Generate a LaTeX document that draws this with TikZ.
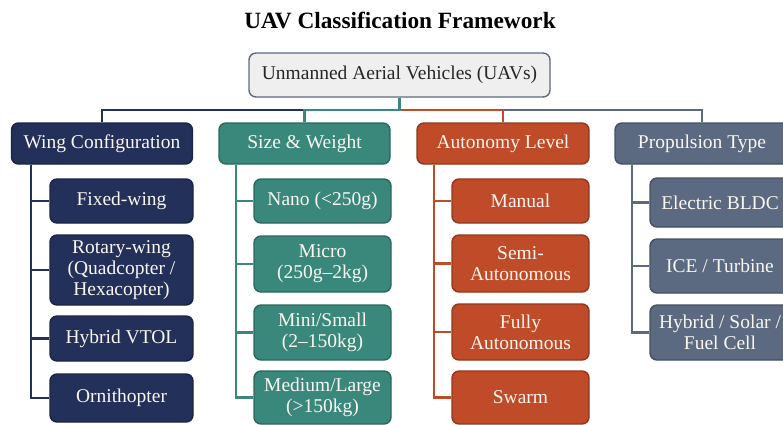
\documentclass[tikz,border=0pt]{standalone}
\usepackage{fontspec}
\setmainfont{Liberation Serif}
\usepackage{xcolor}
\usepackage{tikz}
\usetikzlibrary{positioning,calc}

\definecolor{wingnavy}{HTML}{23305A}
\definecolor{sizeteal}{HTML}{3A887C}
\definecolor{autored}{HTML}{BF4B28}
\definecolor{propslate}{HTML}{5B6A80}
\definecolor{rootgray}{HTML}{EFEFEF}
\definecolor{boxtext}{HTML}{FBF7F0}

\begin{document}
\begin{tikzpicture}[
			x = 1pt, y = -1pt,
			every node/.style = {font=\fontsize{19.5}{21}\selectfont},
			box/.style = {rounded corners=7pt, line width=1.4pt, align=center, inner sep=1pt, text=boxtext},
			rootbox/.style = {box, fill=rootgray, draw=propslate, text=black!85, minimum width=301pt, minimum height=44pt},
			wingbox/.style = {box, fill=wingnavy, draw=wingnavy!75!black},
			sizebox/.style = {box, fill=sizeteal, draw=sizeteal!75!black},
			autobox/.style = {box, fill=autored, draw=autored!75!black},
			propbox/.style = {box, fill=propslate, draw=propslate!75!black},
			link/.style = {line width=2.2pt}
		]

		\useasboundingbox[fill=white] (0,0) rectangle (783,424);

		\node[font=\fontsize{23.3}{26}\selectfont\bfseries] (title) at (400,20) {UAV Classification Framework};

		\node[rootbox] (root) at (399.5,75) {Unmanned Aerial Vehicles (UAVs)};

		% categories
		\node[wingbox, minimum width=181pt, minimum height=41pt] (wing) at (102,143.5) {Wing Configuration};
		\node[sizebox, minimum width=171pt, minimum height=41pt] (size) at (304.5,143.5) {Size \& Weight};
		\node[autobox, minimum width=172pt, minimum height=41pt] (auto) at (503,143.5) {Autonomy Level};
		\node[propbox, minimum width=174pt, minimum height=41pt] (prop) at (702,143.5) {Propulsion Type};

		% wing configuration
		\node[wingbox, minimum width=143pt, minimum height=44pt] (fixed) at (121.5,201) {Fixed-wing};
		\node[wingbox, minimum width=143pt, minimum height=70pt] (rotary) at (121.5,270) {Rotary-wing\\(Quadcopter /\\Hexacopter)};
		\node[wingbox, minimum width=143pt, minimum height=45pt] (vtol) at (121.5,338.5) {Hybrid VTOL};
		\node[wingbox, minimum width=143pt, minimum height=48pt] (ornith) at (121.5,398) {Ornithopter};

		% size and weight
		\node[sizebox, minimum width=137pt, minimum height=44pt] (nano) at (322.5,201) {Nano (<250g)};
		\node[sizebox, minimum width=137pt, minimum height=56pt] (micro) at (322.5,264) {Micro\\(250g–2kg)};
		\node[sizebox, minimum width=137pt, minimum height=55pt] (mini) at (322.5,332.5) {Mini/Small\\(2–150kg)};
		\node[sizebox, minimum width=137pt, minimum height=53pt] (medium) at (322.5,397.5) {Medium/Large\\(>150kg)};

		% autonomy
		\node[autobox, minimum width=137pt, minimum height=44pt] (manual) at (520.5,201) {Manual};
		\node[autobox, minimum width=137pt, minimum height=57pt] (semi) at (520.5,263.5) {Semi-\\Autonomous};
		\node[autobox, minimum width=137pt, minimum height=56pt] (fully) at (520.5,332) {Fully\\Autonomous};
		\node[autobox, minimum width=137pt, minimum height=53pt] (swarm) at (520.5,397.5) {Swarm};

		% propulsion
		\node[propbox, minimum width=140pt, minimum height=49pt] (bldc) at (720,202.5) {Electric BLDC};
		\node[propbox, minimum width=140pt, minimum height=54pt] (ice) at (720,266) {ICE / Turbine};
		\node[propbox, minimum width=140pt, minimum height=55pt] (hybrid) at (720,332.5) {Hybrid / Solar /\\Fuel Cell};

		% root to categories
		\draw[link, propslate] (root.south) -- ++(0,12) -| (prop.north);
		\draw[link, autored] (root.south) -- ++(0,12) -| (auto.north);
		\draw[link, wingnavy] (root.south) -- ++(0,12) -| (wing.north);
		\draw[link, sizeteal] (root.south) -- ++(0,12) -| (size.north);

		% categories to leaves
		\foreach \leaf in {fixed,rotary,vtol,ornith}
			\draw[link, wingnavy] ([xshift=20pt]wing.south west) |- (\leaf.west);
		\foreach \leaf in {nano,micro,mini,medium}
			\draw[link, sizeteal] ([xshift=18pt]size.south west) |- (\leaf.west);
		\foreach \leaf in {manual,semi,fully,swarm}
			\draw[link, autored] ([xshift=18pt]auto.south west) |- (\leaf.west);
		\foreach \leaf in {bldc,ice,hybrid}
			\draw[link, propslate] ([xshift=18pt]prop.south west) |- (\leaf.west);

		\end{tikzpicture}
\end{document}
